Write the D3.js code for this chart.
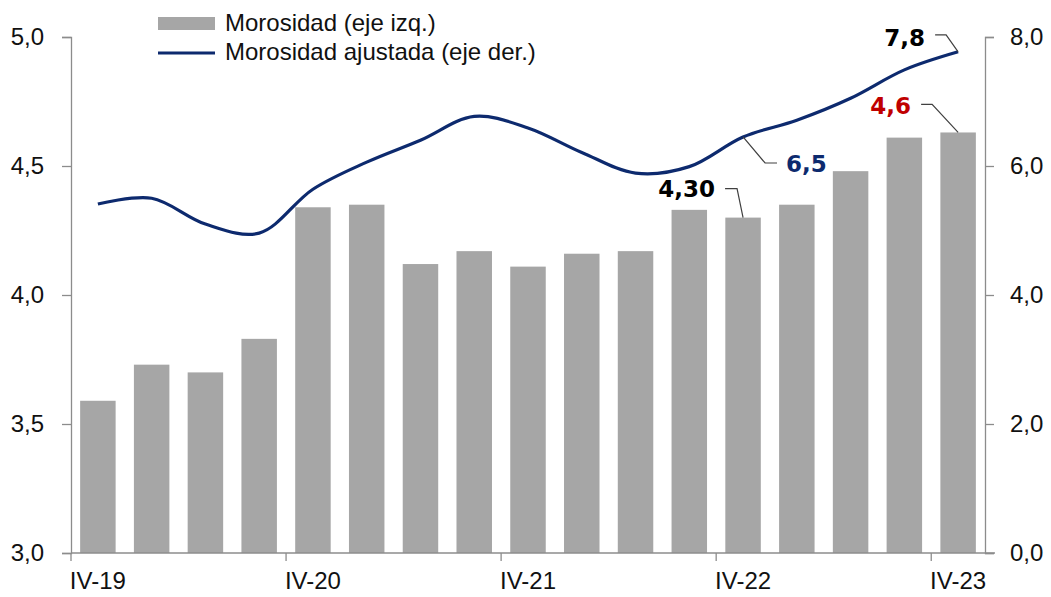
<!DOCTYPE html>
<html>
<head>
<meta charset="utf-8">
<script src="https://cdn.jsdelivr.net/npm/d3@7"></script>
<style>
  body { margin: 0; background: #fff; }
  text { font-family: Arial, "Liberation Sans", sans-serif; }
</style>
</head>
<body>
<div id="chart"></div>
<script>
"use strict";

const quarters = ['IV-19', 'I-20', 'II-20', 'III-20', 'IV-20', 'I-21', 'II-21', 'III-21',
  'IV-21', 'I-22', 'II-22', 'III-22', 'IV-22', 'I-23', 'II-23', 'III-23', 'IV-23'];
const tickQuarters = ['IV-19', 'IV-20', 'IV-21', 'IV-22', 'IV-23'];
const morosidad = [3.59, 3.73, 3.70, 3.83, 4.34, 4.35, 4.12, 4.17, 4.11, 4.16, 4.17,
  4.33, 4.30, 4.35, 4.48, 4.61, 4.63];
const ajustada = [5.41, 5.50, 5.10, 4.96, 5.64, 6.06, 6.40, 6.77, 6.59, 6.21, 5.89,
  5.99, 6.45, 6.71, 7.05, 7.49, 7.77];
const leftTicks = [3.0, 3.5, 4.0, 4.5, 5.0];
const rightTicks = [0, 2, 4, 6, 8];
const legendLabels = ['Morosidad (eje izq.)', 'Morosidad ajustada (eje der.)'];

const width = 1051;
const height = 597;
const margin = { top: 37, right: 66, bottom: 44, left: 71 };
const innerW = width - margin.left - margin.right;
const innerH = height - margin.top - margin.bottom;

const barColor = '#a6a6a6';
const lineColor = '#0d2a6e';
const axisColor = '#8c8c8c';
const fmt = (d, n) => d.toFixed(n).replace('.', ',');

function translateStr(x, y) {
  return 'translate(' + x + ', ' + y + ')';
}

const svg = d3.select('#chart')
  .append('svg')
  .attr('width', width)
  .attr('height', height);

const g = svg.append('g')
  .attr('transform', translateStr(margin.left, margin.top));

const x = d3.scaleBand()
  .domain(quarters)
  .range([0, innerW])
  .paddingInner(0.34)
  .paddingOuter(0.17);

const yL = d3.scaleLinear().domain([3, 5]).range([innerH, 0]);
const yR = d3.scaleLinear().domain([0, 8]).range([innerH, 0]);

const cx = q => x(q) + x.bandwidth() / 2;
const step = x.step();

// bars
g.selectAll('rect.bar')
  .data(quarters)
  .join('rect')
  .attr('class', 'bar')
  .attr('x', q => x(q))
  .attr('width', x.bandwidth())
  .attr('y', (q, i) => yL(morosidad[i]))
  .attr('height', (q, i) => innerH - yL(morosidad[i]))
  .attr('fill', barColor);

// axes
function styleAxis(sel) {
  sel.select('.domain').attr('stroke', axisColor).attr('stroke-width', 1.3);
  sel.selectAll('.tick line').attr('stroke', axisColor).attr('stroke-width', 1.3);
  sel.selectAll('.tick text').attr('fill', '#111').attr('font-size', 24)
    .style('font-family', 'Arial, "Liberation Sans", sans-serif');
}

g.append('g')
  .call(d3.axisLeft(yL).tickValues(leftTicks).tickSize(9).tickPadding(18)
    .tickFormat(d => fmt(d, 1)))
  .call(styleAxis);

g.append('g')
  .attr('transform', translateStr(innerW, 0))
  .call(d3.axisRight(yR).tickValues(rightTicks).tickSize(9).tickPadding(16)
    .tickFormat(d => fmt(d, 1)))
  .call(styleAxis);

// bottom axis: ticks at band starts, labels at band centers
const xAxis = g.append('g').attr('transform', translateStr(0, innerH));
xAxis.append('line')
  .attr('x1', 0).attr('x2', innerW + 10)
  .attr('stroke', axisColor).attr('stroke-width', 1.3);
xAxis.selectAll('line.tk')
  .data(tickQuarters)
  .join('line')
  .attr('class', 'tk')
  .attr('x1', q => x(q) - step * 0.17)
  .attr('x2', q => x(q) - step * 0.17)
  .attr('y1', 0).attr('y2', 8)
  .attr('stroke', axisColor).attr('stroke-width', 1.3);
xAxis.selectAll('text')
  .data(tickQuarters)
  .join('text')
  .attr('x', q => cx(q))
  .attr('y', 36)
  .attr('text-anchor', 'middle')
  .attr('font-size', 24)
  .attr('fill', '#111')
  .text(q => q);

// line
const line = d3.line()
  .x(d => cx(d.q))
  .y(d => yR(d.v))
  .curve(d3.curveCatmullRom.alpha(0.5));

const lineData = quarters.map((q, i) => ({ q: q, v: ajustada[i] }));

g.append('path')
  .datum(lineData)
  .attr('d', line)
  .attr('fill', 'none')
  .attr('stroke', lineColor)
  .attr('stroke-width', 3.2);

// data labels with leader lines
function callout(px, py, pts, tx, ty, anchor, label, color) {
  g.append('path')
    .attr('d', d3.line()([[px, py]].concat(pts.map(p => [px + p[0], py + p[1]]))))
    .attr('fill', 'none')
    .attr('stroke', '#404040')
    .attr('stroke-width', 1.2);
  g.append('text')
    .attr('x', px + tx)
    .attr('y', py + ty)
    .attr('text-anchor', anchor)
    .style('font-family', '"DejaVu Sans", Verdana, sans-serif')
    .attr('font-weight', 'bold')
    .attr('font-size', 23)
    .attr('fill', color)
    .text(label);
}

const last = quarters.length - 1;
const i22 = quarters.indexOf('IV-22');

callout(cx(quarters[last]), yR(ajustada[last]), [[-12, -17], [-23, -17]],
  -33, -6, 'end', fmt(ajustada[last], 1), '#000');
callout(cx(quarters[last]), yL(morosidad[last]), [[-26, -28], [-37, -28]],
  -47, -18, 'end', fmt(morosidad[last], 1), '#c00000');
callout(cx(quarters[i22]), yL(morosidad[i22]), [[-6, -29], [-18, -29]],
  -28, -21, 'end', fmt(morosidad[i22], 2), '#000');
callout(cx(quarters[i22]), yR(ajustada[i22]), [[22, 26], [34, 26]],
  43, 35, 'start', fmt(ajustada[i22], 1), '#0d2a6e');

// legend
const legend = svg.append('g').attr('transform', translateStr(158, 17));
legend.append('rect')
  .attr('x', 0).attr('y', 0)
  .attr('width', 57).attr('height', 13)
  .attr('fill', barColor);
legend.append('line')
  .attr('x1', 0).attr('x2', 57)
  .attr('y1', 36).attr('y2', 36)
  .attr('stroke', lineColor)
  .attr('stroke-width', 3);
legend.selectAll('text')
  .data(legendLabels)
  .join('text')
  .attr('x', 67)
  .attr('y', (d, i) => 14 + i * 29)
  .attr('font-size', 24)
  .attr('fill', '#111')
  .text(d => d);
</script>
</body>
</html>
